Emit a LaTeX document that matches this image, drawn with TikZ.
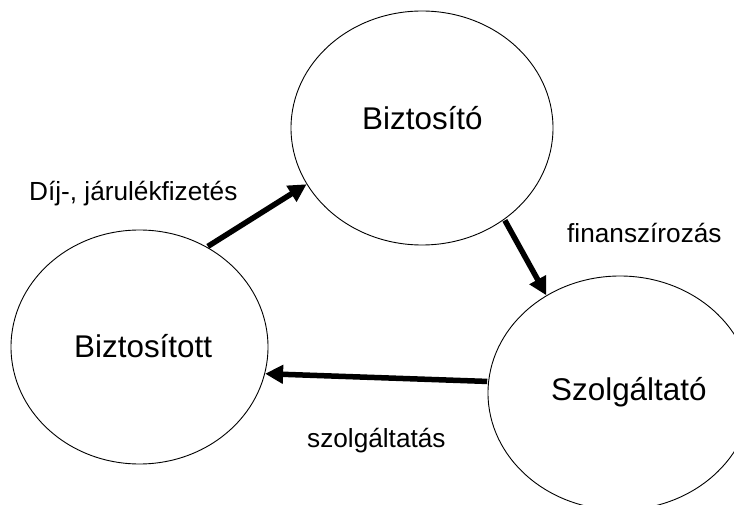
\documentclass[tikz,border=0pt]{standalone}
\usepackage{fontspec}
\setmainfont{Liberation Sans}
\usetikzlibrary{shapes.geometric,arrows.meta}
\tikzset{
  oval/.style={ellipse, draw=black, line width=0.9pt, fill=white, minimum width=262pt, minimum height=234pt, inner sep=0pt},
  ovaltext/.style={anchor=base west, inner sep=0pt, font=\fontsize{31.4}{36}\selectfont},
  flowlabel/.style={anchor=base west, inner sep=0pt, font=\fontsize{26.2}{30}\selectfont},
  flow/.style={line width=5.5pt, -{Triangle[length=18pt,width=18pt]}, shorten <=1pt}
}
\begin{document}
\begin{tikzpicture}[x=1pt,y=-1pt]
\useasboundingbox (0,0) rectangle (734,505);
\clip (0,0) rectangle (734,505);
\fill[white] (0,0) rectangle (734,505);
\node[oval] (bto) at (422,128) {};
\node[oval, minimum width=257pt] (btt) at (139.5,347) {};
\node[oval, minimum width=264pt] (szo) at (620,393) {};
\node[ovaltext] (btotxt) at (362,130) {Biztosító};
\node[ovaltext] (btttxt) at (74,357) {Biztosított};
\node[ovaltext] (szotxt) at (551,400) {Szolgáltató};
\node[flowlabel] (l1) at (29,201) {Díj-, járulékfizetés};
\node[flowlabel] (l2) at (567,243) {finanszírozás};
\node[flowlabel] (l3) at (307,447) {szolgáltatás};
\draw[flow] (btt.56) -- (bto.206);
\draw[flow] (bto.312) -- (szo.127);
\draw[flow] (szo.175) -- (btt.348);
\end{tikzpicture}
\end{document}
